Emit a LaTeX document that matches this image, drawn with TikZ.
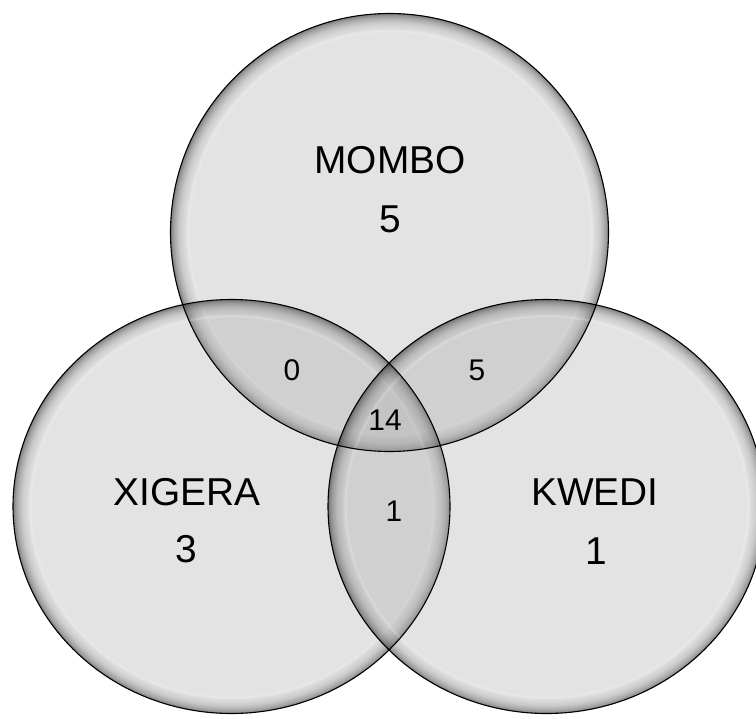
\documentclass[tikz,border=0pt]{standalone}
\usepackage{fontspec}
\setmainfont{Liberation Sans}
\usetikzlibrary{fadings}

% dark inner rim: transparent inside, opaque towards the boundary (edge at 25bp)
\pgfdeclareradialshading{rimshade}{\pgfpointorigin}{color(0bp)=(pgftransparent!100); color(23.0bp)=(pgftransparent!100); color(23.9bp)=(pgftransparent!78); color(24.5bp)=(pgftransparent!45); color(25bp)=(pgftransparent!0); color(30bp)=(pgftransparent!0)}
\pgfdeclarefading{rimfade}{\pgfuseshading{rimshade}}
% thin light ring just inside the rim
\pgfdeclareradialshading{glintshade}{\pgfpointorigin}{color(0bp)=(pgftransparent!100); color(22.7bp)=(pgftransparent!100); color(22.95bp)=(pgftransparent!0); color(23.2bp)=(pgftransparent!100); color(30bp)=(pgftransparent!100)}
\pgfdeclarefading{glintfade}{\pgfuseshading{glintshade}}

\definecolor{setgray}{gray}{0.647}

\tikzset{
  setbody/.style={fill=setgray, fill opacity=0.3},
  setrim/.style={fill=black, fill opacity=0.48, path fading=rimfade, fit fading=true},
  setglint/.style={fill=white, fill opacity=0.2, path fading=glintfade, fit fading=true},
  setedge/.style={draw=black, line width=1.1bp},
  bigtext/.style={font=\fontsize{39}{39}\selectfont, inner sep=0pt},
  smalltext/.style={font=\fontsize{30}{30}\selectfont, inner sep=0pt},
}

% one translucent set: body, inner rim and glint
\newcommand{\bubble}[3]{%
  \path[setbody]  (#1) ellipse [x radius=#2, y radius=#3];
  \path[setrim]   (#1) ellipse [x radius=#2, y radius=#3];
  \path[setglint] (#1) ellipse [x radius=#2, y radius=#3];
}

\begin{document}
\begin{tikzpicture}[x=1bp, y=-1bp]
  \useasboundingbox (0,0) rectangle (756,719);
  \fill[white] (0,0) rectangle (756,719);

  \coordinate (ctop)   at (389.5,232.5);
  \coordinate (cleft)  at (231.5,506.5);
  \coordinate (cright) at (546.5,506.5);

  \bubble{ctop}{219}{219}
  \bubble{cleft}{218.5}{207}
  \bubble{cright}{218.5}{207}

  \path[setedge] (ctop)   ellipse [x radius=219,   y radius=219];
  \path[setedge] (cleft)  ellipse [x radius=218.5, y radius=207];
  \path[setedge] (cright) ellipse [x radius=218.5, y radius=207];

  % set names and counts
  \node[bigtext] (mombo)  at (390,160.5) {MOMBO};
  \node[bigtext] (nmombo) at (390,219)   {5};
  \node[bigtext] (xigera) at (187,492)   {XIGERA};
  \node[bigtext] (nxigera) at (186,549.5) {3};
  \node[bigtext] (kwedi)  at (595,492)   {KWEDI};
  \node[bigtext] (nkwedi) at (596,551)   {1};

  % overlap counts
  \node[smalltext] (mx)  at (292,370.5) {0};
  \node[smalltext] (mk)  at (477,370.5) {5};
  \node[smalltext] (mxk) at (385,420.5) {14};
  \node[smalltext] (xk)  at (394,511)   {1};
\end{tikzpicture}
\end{document}
